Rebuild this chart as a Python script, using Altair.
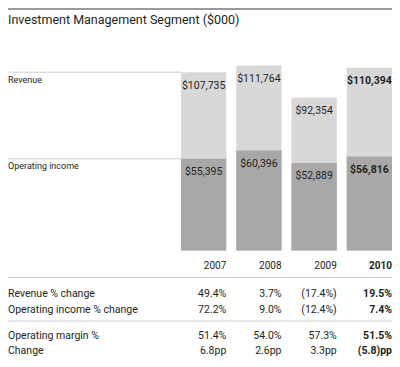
import altair as alt
import pandas as pd

# ---- data ----
years = ["2007", "2008", "2009", "2010"]
revenue = [107735, 111764, 92354, 110394]
op_income = [55395, 60396, 52889, 56816]
revenue_labels = ["$107,735", "$111,764", "$92,354", "$110,394"]
op_income_labels = ["$55,395", "$60,396", "$52,889", "$56,816"]
revenue_pct_change = ["49.4%", "3.7%", "(17.4%)", "19.5%"]
op_income_pct_change = ["72.2%", "9.0%", "(12.4%)", "7.4%"]
op_margin = ["51.4%", "54.0%", "57.3%", "51.5%"]
margin_change = ["6.8pp", "2.6pp", "3.3pp", "(5.8)pp"]
row_labels = ["Revenue % change", "Operating income % change", "Operating margin %", "Change"]
title_text = "Investment Management Segment ($000)"
highlight_year = "2010"

FONT = "Roboto, Liberation Sans, sans-serif"
TXT = "#231f20"
LIGHT = "#d8d8d8"
DARK = "#a8a8a8"
LINE = "#cccccc"

df = pd.DataFrame({
    "year": years,
    "revenue": revenue,
    "op": op_income,
    "rev_lbl": revenue_labels,
    "op_lbl": op_income_labels,
    "rev_chg": revenue_pct_change,
    "op_chg": op_income_pct_change,
    "margin": op_margin,
    "mchg": margin_change,
})

W, H = 384, 351
BAR_LEFT = 173
x_scale = alt.Scale(domain=years, range=[BAR_LEFT, W], paddingInner=0.18, paddingOuter=0)
y_scale = alt.Scale(domain=[0, 111764], range=[242.5, 57.5], nice=False, zero=True)

base = alt.Chart(df)

X = alt.X("year:N", scale=x_scale, axis=None)


def Y(f):
    return alt.Y(f"{f}:Q", scale=y_scale, axis=None)


rev_bars = base.mark_bar(color=LIGHT).encode(x=X, y=Y("revenue"), y2=alt.datum(0))
op_bars = base.mark_bar(color=DARK).encode(x=X, y=Y("op"), y2=alt.datum(0))


def bold_split(chart_fn):
    normal = chart_fn(False).transform_filter(alt.datum.year != highlight_year)
    bold = chart_fn(True).transform_filter(alt.datum.year == highlight_year)
    return [normal, bold]


def bar_label(field, ycol):
    def f(b):
        return base.mark_text(
            font=FONT, fontSize=10.5, color=TXT, baseline="middle", align="center",
            dy=13.5, fontWeight="bold" if b else "normal",
        ).encode(x=X, y=Y(ycol), text=f"{field}:N")
    return bold_split(f)


def table_cell(field, ypix, size=10.5):
    def f(b):
        return base.mark_text(
            font=FONT, fontSize=size, color=TXT, baseline="middle", align="right",
            fontWeight="bold" if b else "normal",
        ).encode(
            x=alt.X("year:N", scale=x_scale, axis=None, bandPosition=1),
            y=alt.value(ypix),
            text=f"{field}:N",
        )
    return bold_split(f)


# left guide lines at the 2007 bar tops
first = base.transform_filter(alt.datum.year == years[0])
rev_line = first.mark_rule(color=LINE, strokeWidth=1).encode(
    y=Y("revenue"), x=alt.value(0), x2=alt.value(BAR_LEFT))
op_line = first.mark_rule(color=LINE, strokeWidth=1).encode(
    y=Y("op"), x=alt.value(0), x2=alt.value(BAR_LEFT))
rev_name = first.mark_text(font=FONT, fontSize=9, color=TXT, align="left",
                           baseline="middle", dy=7.5).encode(
    y=Y("revenue"), x=alt.value(0), text=alt.value("Revenue"))
op_name = first.mark_text(font=FONT, fontSize=9, color=TXT, align="left",
                          baseline="middle", dy=7.5).encode(
    y=Y("op"), x=alt.value(0), text=alt.value("Operating income"))

# title + top line
tdf = pd.DataFrame({"t": [title_text]})
title = alt.Chart(tdf).mark_text(font=FONT, fontSize=12.5, color=TXT, align="left",
                                 baseline="middle").encode(
    x=alt.value(0), y=alt.value(12), text="t:N")
top_line = alt.Chart(tdf).mark_rule(color="#9a9a9a", strokeWidth=2).encode(
    x=alt.value(0), x2=alt.value(W), y=alt.value(1))

# table
row_y = [286, 301.5, 327.5, 343]
rdf = pd.DataFrame({"label": row_labels, "ypos": row_y})
row_text = alt.Chart(rdf).mark_text(font=FONT, fontSize=10.5, color=TXT, align="left",
                                    baseline="middle").encode(
    x=alt.value(0), y=alt.Y("ypos:Q", scale=None), text="label:N")
sep1 = alt.Chart(tdf).mark_rule(color=LINE, strokeWidth=1).encode(
    x=alt.value(0), x2=alt.value(W), y=alt.value(269.5))
sep2 = alt.Chart(tdf).mark_rule(color=LINE, strokeWidth=1).encode(
    x=alt.value(0), x2=alt.value(W), y=alt.value(313))

layers = [top_line, title, rev_bars, op_bars, rev_line, op_line, rev_name, op_name]
layers += bar_label("rev_lbl", "revenue")
layers += bar_label("op_lbl", "op")
layers += table_cell("year", 258, 10)
layers += [sep1, sep2, row_text]
layers += table_cell("rev_chg", row_y[0])
layers += table_cell("op_chg", row_y[1])
layers += table_cell("margin", row_y[2])
layers += table_cell("mchg", row_y[3])

chart = alt.layer(*layers).properties(
    width=W, height=H, autosize=alt.AutoSizeParams(type="none"), padding=0
).configure_view(stroke=None)

chart.save("out.html", embed_options={"renderer": "svg", "actions": False})
